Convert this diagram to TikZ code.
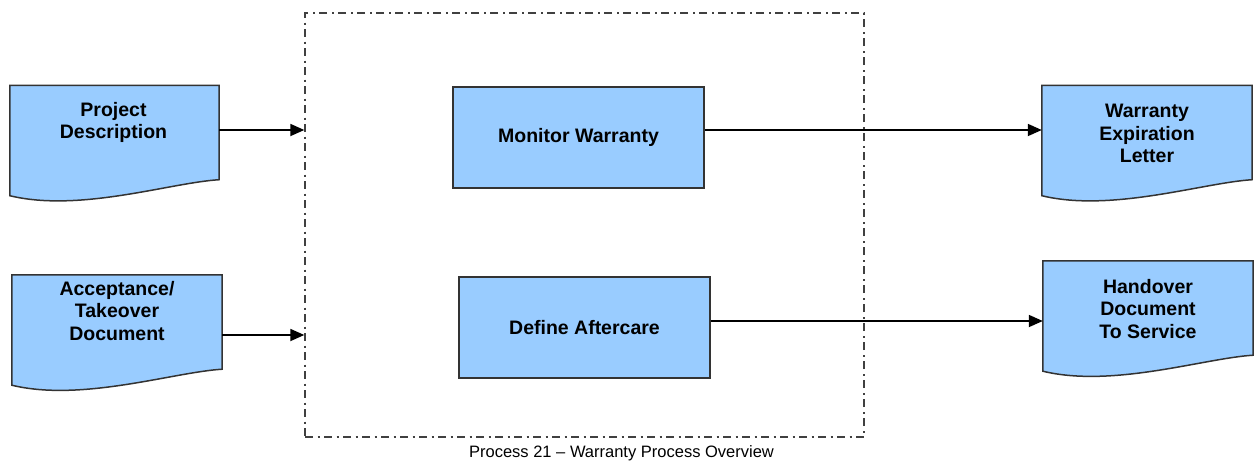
\documentclass[tikz,border=0pt]{standalone}
\usepackage{fontspec}
\setmainfont{Liberation Sans}
\usetikzlibrary{arrows.meta,calc}
\definecolor{boxblue}{HTML}{99CCFF}
\definecolor{edgegray}{HTML}{333333}
\definecolor{dashgray}{HTML}{404040}
\tikzset{
  docbox/.style={minimum width=210pt, minimum height=94pt, inner sep=0pt, draw=none},
  docline/.style={fill=boxblue, draw=edgegray, line width=1.5pt, line join=miter},
  doctxt/.style={font=\fontsize{19.5}{22.5}\selectfont\bfseries, align=center, inner sep=0pt},
  procbox/.style={fill=boxblue, draw=edgegray, line width=1.5pt, minimum width=251pt, minimum height=101pt, inner sep=0pt, font=\fontsize{19.5}{22.5}\selectfont\bfseries},
  dashbox/.style={draw=dashgray, line width=1.4pt, dash pattern=on 8pt off 4.5pt on 2pt off 4.5pt, minimum width=559pt, minimum height=424pt, inner sep=0pt},
  conn/.style={line width=1.8pt, draw=black, -{Triangle[length=14pt,width=12pt]}},
  captxt/.style={font=\fontsize{16.5}{19}\selectfont, inner sep=0pt}
}
\newcommand\docpath[1]{%
  \filldraw[docline] (#1.north west) -- (#1.north east) -- (#1.south east)
    .. controls ($(#1.south east)+(-49,-3)$) and ($(#1.south west)+(70,-33)$) ..
    ($(#1.south west)+(0,-16)$) -- cycle;}
\begin{document}
\begin{tikzpicture}[x=1pt,y=1pt]
\useasboundingbox[fill=white] (0,0) rectangle (1259,-466);

% dashed process boundary
\node[dashbox] (proc) at (584.5,-225) {};

% input documents
\node[docbox, minimum width=209pt] (pd) at (114.5,-132.5) {};
\docpath{pd}
\node[doctxt] (pdt) at ($(pd.center)+(-1,10)$) {Project\\Description};

\node[docbox] (acc) at (117,-322) {};
\docpath{acc}
\node[doctxt] (acct) at ($(acc.center)+(0,11)$) {Acceptance/\\Takeover\\Document};

% processes
\node[procbox] (mw) at (578.5,-137.5) {Monitor Warranty};
\node[procbox] (da) at (584.5,-327.5) {Define Aftercare};

% output documents
\node[docbox] (wel) at (1147,-132.5) {};
\docpath{wel}
\node[doctxt] (welt) at ($(wel.center)+(0,-1)$) {Warranty\\Expiration\\Letter};

\node[docbox] (hand) at (1148,-308) {};
\docpath{hand}
\node[doctxt] (handt) at ($(hand.center)+(0,-1)$) {Handover\\Document\\To Service};

% connectors
\draw[conn] (pd.east |- 0,-130) -- (proc.west |- 0,-130);
\draw[conn] (acc.east |- 0,-335) -- (proc.west |- 0,-335);
\draw[conn] (mw.east |- 0,-130) -- (wel.west |- 0,-130);
\draw[conn] (da.east |- 0,-321) -- (hand.west |- 0,-321);

% caption
\node[captxt] (cap) at (621.5,-453) {Process 21 – Warranty Process Overview};
\end{tikzpicture}
\end{document}
